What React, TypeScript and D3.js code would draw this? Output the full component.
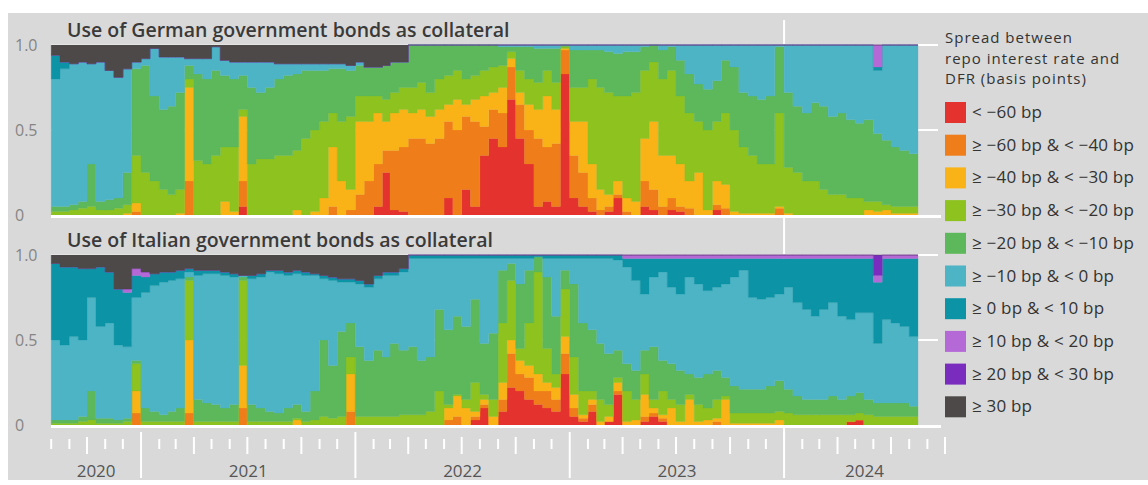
import React from 'react';
import * as d3 from 'd3';

// ---------- categories ----------
const N_PERIODS = 97; // half-month periods, Aug 2020 – first half Aug 2024
const periodStarts: Date[] = [];
for (let k = 0; k <= N_PERIODS; k++) {
  const m = Math.floor(k / 2);
  periodStarts.push(new Date(2020, 7 + m, k % 2 === 0 ? 1 : 16));
}

const bandLabels = [
  '< −60 bp',
  '≥ −60 bp & < −40 bp',
  '≥ −40 bp & < −30 bp',
  '≥ −30 bp & < −20 bp',
  '≥ −20 bp & < −10 bp',
  '≥ −10 bp & < 0 bp',
  '≥ 0 bp & < 10 bp',
  '≥ 10 bp & < 20 bp',
  '≥ 20 bp & < 30 bp',
  '≥ 30 bp',
];
const bandColors = [
  '#e4322e', '#ef7d1a', '#f9b317', '#8dc21f', '#5cb85a',
  '#4db4c5', '#0c94a6', '#b469d6', '#7a2cbf', '#4d4949',
];
const legendTitle = ['Spread between', 'repo interest rate and', 'DFR (basis points)'];

const yTicks = [0, 0.5, 1];
const yTickLabels = ['0', '0.5', '1.0'];
const years = [2020, 2021, 2022, 2023, 2024];

// ---------- German collateral: cumulative share (%) with spread below threshold ----------
const deBelowM60 = [
  0,0,0,0,0,0,0,0,0,0, 0,0,0,0,0,0,0,0,0,0, 0,5,0,0,0,0,0,0,0,0, 0,0,0,0,0,0,5,25,3,2,
  0,0,0,0,10,0,15,5,35,45, 40,68,45,30,5,8,5,83,10,5, 2,0,2,10,0,0,5,3,0,3,
  2,0,0,0,3,0,0,0,0,0, 0,0,0,0,0,0,0,0,0,0, 0,0,0,0,0,0,0];
const deBelowM40 = [
  0,0,0,0,0,0,0,0,0,2, 0,0,0,0,0,20,0,0,0,0, 0,20,0,0,0,0,0,0,0,0, 0,5,0,3,12,20,30,38,38,40,
  45,45,42,45,55,50,58,55,52,62, 60,87,65,50,45,40,42,97,35,25, 10,3,5,12,2,0,20,15,5,10,
  5,4,0,0,6,4,0,0,0,0, 0,4,0,0,0,0,0,0,0,0, 0,0,0,0,0,0,0];
const deBelowM30 = [
  0,0,0,0,0,0,0,0,1,7, 0,0,0,0,1,75,0,0,0,8, 2,58,0,0,0,0,0,3,0,2, 10,40,20,15,55,55,60,55,60,62,
  60,62,58,62,65,68,65,68,70,72, 75,92,72,65,62,70,62,98,55,55, 30,15,12,20,10,8,45,55,35,35,
  30,20,25,3,20,18,2,1,1,1, 1,5,1,0,0,0,0,0,0,0, 0,3,2,3,1,1,1];
const deBelowM20 = [
  2,2,3,4,5,3,3,4,6,35, 25,20,15,12,15,80,32,30,35,40, 40,62,30,33,33,35,35,38,45,50, 55,60,55,58,70,70,70,68,72,75,
  75,78,72,80,82,85,80,82,85,87, 88,96,85,80,78,85,78,99,75,75, 80,75,72,70,70,72,85,90,80,85,
  70,60,55,50,55,60,50,40,35,30, 30,60,28,25,20,20,15,12,12,10, 10,8,8,6,5,5,5];
const deBelowM10 = [
  5,5,6,8,30,8,9,10,25,86, 88,70,62,64,72,88,83,80,85,82, 80,82,75,72,75,80,82,83,85,85, 85,86,86,85,88,87,87,88,90,90,
  100,100,100,100,100,100,100,100,100,100, 99,99,99,99,98,98,98,100,97,97, 97,97,96,95,96,96,99,100,97,99,
  91,83,77,74,79,91,87,72,70,68, 70,99,72,64,60,66,64,58,60,56, 54,56,48,44,40,38,36];
const deBelow0 = [
  80,86,89,90,89,90,85,81,86,90, 92,98,93,93,93,92,92,92,99,91, 90,90,90,90,90,89,89,89,89,89, 89,89,89,88,90,87,87,88,90,90,
  100,100,100,100,100,100,100,100,100,100, 100,100,100,100,100,100,100,100,100,100, 100,100,100,100,100,100,100,100,100,100,
  100,100,100,100,100,100,100,100,100,100, 100,100,100,100,100,100,100,100,100,100, 100,100,85,100,100,100,100];
const deBelow10 = [
  94,90,89,90,89,90,85,81,86,90, 92,98,93,93,93,92,92,92,99,91, 90,90,90,90,90,89,89,89,89,89, 89,89,89,88,90,87,87,88,90,90,
  100,100,100,100,100,100,100,100,100,100, 100,100,100,100,100,100,100,100,100,100, 100,100,100,100,100,100,100,100,100,100,
  100,100,100,100,100,100,100,100,100,100, 100,100,100,100,100,100,100,100,100,100, 100,100,87,100,100,100,100];
const deBelow20 = [
  94,90,89,90,89,90,85,81,86,90, 92,98,93,93,93,92,92,92,99,91, 90,90,90,90,90,89,89,89,89,89, 89,89,89,88,90,87,87,88,90,90,
  100,100,100,100,100,100,100,100,100,100, 100,100,100,100,100,100,100,100,100,100, 100,100,100,100,100,100,100,100,100,100,
  100,100,100,100,100,100,100,100,100,100, 100,100,100,100,100,100,100,100,100,100, 100,100,100,100,100,100,100];
const deBelow30 = [
  94,90,89,90,89,90,85,81,86,90, 92,98,93,93,93,92,92,92,99,91, 90,90,90,90,90,89,89,89,89,89, 89,89,89,88,90,87,87,88,90,90,
  100,100,100,100,100,100,100,100,100,100, 100,100,100,100,100,100,100,100,100,100, 100,100,100,100,100,100,100,100,100,100,
  100,100,100,100,100,100,100,100,100,100, 100,100,100,100,100,100,100,100,100,100, 100,100,100,100,100,100,100];

// ---------- Italian collateral ----------
const itBelowM60 = [
  0,0,0,0,0,0,0,0,0,0, 0,0,0,0,0,0,0,0,0,0, 0,0,0,0,0,0,0,0,0,0, 0,0,0,0,0,0,0,0,0,0,
  0,0,0,0,0,0,0,3,10,0, 8,22,20,15,12,10,8,30,5,2, 8,0,2,18,0,0,2,5,2,0,
  0,0,0,0,0,0,0,0,0,0, 0,0,0,0,0,0,0,0,0,2, 3,0,0,0,0,0,0];
const itBelowM40 = [
  0,0,0,0,0,0,0,0,0,7, 0,0,0,0,0,7,0,0,0,0, 0,10,0,0,0,0,0,0,0,0, 0,0,0,8,0,0,0,0,0,0,
  0,0,0,0,3,5,0,5,12,0, 15,42,30,28,20,20,15,42,10,4, 12,0,2,20,0,0,5,7,4,0,
  0,0,0,0,2,0,0,0,0,0, 0,0,0,0,0,0,0,0,0,2, 3,0,0,0,0,0,0];
const itBelowM30 = [
  0,0,0,0,0,0,0,0,0,20, 0,0,0,0,0,50,0,0,0,0, 0,35,0,0,0,0,0,3,0,0, 0,0,0,30,0,0,0,0,0,0,
  0,0,0,0,10,17,10,8,15,5, 25,50,38,35,30,25,22,52,18,6, 15,2,5,25,2,3,18,10,6,10,
  2,15,2,3,4,15,1,1,1,1, 1,3,0,0,0,0,0,0,0,2, 3,0,0,0,0,0,0];
const itBelowM20 = [
  1,1,1,2,3,1,1,1,2,36, 2,2,2,2,2,85,2,2,2,2, 2,85,2,2,2,2,2,4,2,3, 5,4,5,40,5,5,5,5,5,6,
  6,6,8,20,12,18,15,25,18,15, 60,85,45,60,90,45,30,80,40,20, 20,15,12,28,20,15,30,15,20,15,
  12,18,12,10,15,17,7,7,7,7, 7,8,7,6,6,6,6,6,6,6, 7,6,5,5,5,5,5];
const itBelowM10 = [
  3,3,3,5,20,4,4,3,4,38, 10,8,6,8,10,87,15,13,12,10, 12,87,12,10,8,7,10,12,8,20, 50,35,55,60,46,38,44,40,48,44,
  46,38,40,68,56,64,58,74,48,54, 91,95,83,91,99,87,64,91,83,60, 56,48,42,44,36,32,44,46,38,36,
  32,30,28,30,32,28,23,21,21,21, 23,26,21,17,15,15,15,17,15,17, 19,15,13,13,13,13,11];
const itBelow0 = [
  50,47,52,50,75,58,60,47,46,75, 78,82,84,85,86,90,88,89,89,88, 87,88,86,87,90,89,88,89,88,88, 86,85,84,84,83,81,86,88,88,90,
  98,98,98,98,98,98,98,98,98,98, 98,98,98,98,99,98,98,98,98,98, 98,98,98,97,93,85,77,87,90,81,
  77,87,83,79,81,83,87,91,75,74, 75,77,81,72,68,64,68,72,64,62, 66,66,48,62,60,58,52];
const itBelow10 = [
  95,93,93,92,92,93,90,80,78,88, 87,89,90,90,91,92,91,91,91,90, 89,88,88,89,91,91,90,91,90,89, 88,87,86,86,85,83,88,90,90,92,
  100,100,100,100,100,100,100,100,100,100, 100,100,100,100,100,100,100,100,100,100, 100,100,100,100,98,98,98,98,98,98,
  98,98,98,98,98,98,98,98,98,98, 98,98,98,98,98,98,98,98,98,98, 98,98,84,98,98,98,98];
const itBelow20 = [
  95,93,93,92,92,93,90,80,80,92, 90,89,90,90,91,92,91,91,91,90, 89,88,88,89,91,91,90,91,90,89, 88,87,86,86,85,83,88,90,90,92,
  100,100,100,100,100,100,100,100,100,100, 100,100,100,100,100,100,100,100,100,100, 100,100,100,100,100,100,100,100,100,100,
  100,100,100,100,100,100,100,100,100,100, 100,100,100,100,100,100,100,100,100,100, 100,100,88,100,100,100,100];
const itBelow30 = [
  95,93,93,92,92,93,90,80,80,92, 90,89,90,90,91,92,91,91,91,90, 89,88,88,89,91,91,90,91,90,89, 88,87,86,86,85,83,88,90,90,92,
  100,100,100,100,100,100,100,100,100,100, 100,100,100,100,100,100,100,100,100,100, 100,100,100,100,100,100,100,100,100,100,
  100,100,100,100,100,100,100,100,100,100, 100,100,100,100,100,100,100,100,100,100, 100,100,100,100,100,100,100];

const germanCum = [deBelowM60, deBelowM40, deBelowM30, deBelowM20, deBelowM10, deBelow0, deBelow10, deBelow20, deBelow30];
const italianCum = [itBelowM60, itBelowM40, itBelowM30, itBelowM20, itBelowM10, itBelow0, itBelow10, itBelow20, itBelow30];

const W = 1148;
const H = 485;
const FONT = '"Open Sans", "Noto Sans", sans-serif';

const x = d3.scaleTime()
  .domain([new Date(2020, 7, 1), new Date(2024, 9, 1)])
  .range([51.2, 945]);

function Panel({ cum, top, bottom, title }: { cum: number[][]; top: number; bottom: number; title: string }) {
  const y = d3.scaleLinear().domain([0, 1]).range([bottom, top]);
  const idx = d3.range(N_PERIODS + 1);
  const val = (arr: number[] | null, i: number, fallback: number) =>
    arr ? arr[Math.min(i, N_PERIODS - 1)] / 100 : fallback;
  const paths = bandColors.map((c, k) => {
    const lower = k === 0 ? null : cum[k - 1];
    const upper = k === 9 ? null : cum[k];
    const gen = d3.area<number>()
      .x((i) => x(periodStarts[i]))
      .y0((i) => y(val(lower, i, 0)))
      .y1((i) => y(val(upper, i, 1)))
      .curve(d3.curveStepAfter);
    return <path key={k} d={gen(idx) || ''} fill={c} stroke={c} strokeWidth={0.3} />;
  });
  return (
    <g>
      {yTicks.filter((t) => t > 0).map((t) => (
        <line key={t} x1={51} x2={938} y1={y(t)} y2={y(t)} stroke="#fff" strokeWidth={2} />
      ))}
      {paths}
      <line x1={51} x2={941} y1={bottom + 1.5} y2={bottom + 1.5} stroke="#fff" strokeWidth={3} />
      {yTicks.map((t, j) => (
        <text key={t} x={15} y={y(t) + 2} dominantBaseline="middle" fontSize={16} fill="#858585" fontFamily={FONT}>
          {yTickLabels[j]}
        </text>
      ))}
      <text x={67} y={top - 8} fontSize={19.5} fontWeight={600} fill="#3a3a3a" fontFamily={FONT}>{title}</text>
    </g>
  );
}

export default function App() {
  const months = d3.timeMonth.range(new Date(2020, 7, 1), new Date(2024, 9, 2));
  const axisY = 427;
  return (
    <svg width={W} height={H} style={{ position: 'absolute', left: 0, top: 0, background: '#fff' }}>
      <rect x={8} y={13} width={W - 8} height={467} fill="#d9d9d9" />
      <line x1={x(new Date(2024, 0, 1))} x2={x(new Date(2024, 0, 1))} y1={20} y2={440} stroke="#fff" strokeWidth={2} />
      <Panel cum={germanCum} top={45} bottom={215} title="Use of German government bonds as collateral" />
      <Panel cum={italianCum} top={255} bottom={425} title="Use of Italian government bonds as collateral" />
      {/* x axis ticks */}
      {months.map((m, i) => {
        const mo = m.getMonth();
        const isYear = mo === 0;
        const isQ = mo % 3 === 0;
        const y1 = isYear ? axisY + 5 : isQ ? axisY + 10 : axisY + 12;
        const y2 = isYear ? 478 : isQ ? axisY + 27 : axisY + 22;
        return <line key={i} x1={x(m)} x2={x(m)} y1={y1} y2={y2} stroke="#fff" strokeWidth={2} />;
      })}
      {years.map((yr) => {
        const a = Math.max(x(new Date(yr, 0, 1)), x.range()[0]);
        const b = Math.min(x(new Date(yr + 1, 0, 1)), x.range()[1]);
        return (
          <text key={yr} x={(a + b) / 2} y={477} textAnchor="middle" fontSize={17} fill="#555" fontFamily={FONT}>
            {yr}
          </text>
        );
      })}
      {/* legend */}
      {legendTitle.map((s, i) => (
        <text key={i} x={945} y={43 + i * 20.5} fontSize={15} fontWeight={500} fill="#333" fontFamily={FONT} letterSpacing={1}>
          {s}
        </text>
      ))}
      {bandLabels.map((lab, k) => (
        <g key={k} transform={`translate(945, ${102 + k * 32.7})`}>
          <rect width={21} height={21} fill={bandColors[k]} />
          <text x={27} y={11.5} dominantBaseline="middle" fontSize={17} fontWeight={500} fill="#333" fontFamily={FONT} letterSpacing={0.2}>{lab}</text>
        </g>
      ))}
    </svg>
  );
}
